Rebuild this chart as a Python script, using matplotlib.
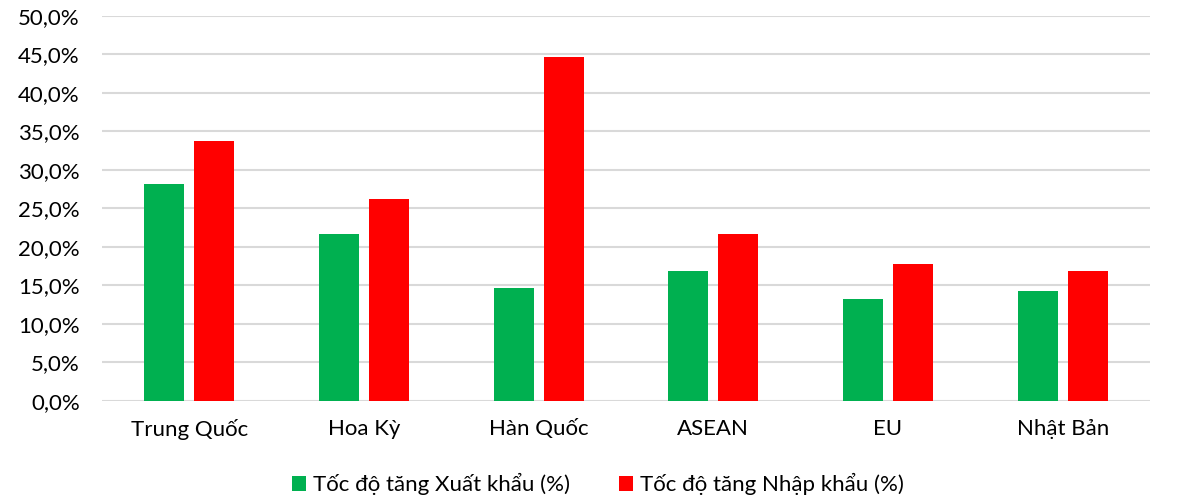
import numpy as np
import matplotlib as mpl
import matplotlib.pyplot as plt
from matplotlib.ticker import FuncFormatter

mpl.rcParams['font.family'] = ['Lato', 'DejaVu Sans']

# Data
categories = ['Trung Quốc', 'Hoa Kỳ', 'Hàn Quốc', 'ASEAN', 'EU', 'Nhật Bản']
xuat_khau = [28.2, 21.6, 14.7, 16.9, 13.2, 14.2]
nhap_khau = [33.7, 26.2, 44.6, 21.7, 17.8, 16.8]
labels = ['Tốc độ tăng Xuất khẩu (%)', 'Tốc độ tăng Nhập khẩu (%)']

GREEN = '#00B050'
RED = '#FF0000'

fig = plt.figure(figsize=(11.96, 4.95), dpi=100)
ax = fig.add_axes([102 / 1196, 1 - 400.7 / 495, (1150 - 102) / 1196, (400.7 - 15.7) / 495])

x = np.arange(len(categories))
w = 0.229
off = 0.143
ax.bar(x - off, xuat_khau, w, color=GREEN, label=labels[0], zorder=3)
ax.bar(x + off, nhap_khau, w, color=RED, label=labels[1], zorder=3)

ax.set_xlim(-0.5, len(categories) - 0.5)
ax.set_ylim(0, 50)
ax.set_yticks(np.arange(0, 50.1, 5))
ax.yaxis.set_major_formatter(FuncFormatter(lambda v, p: f'{v:.1f}%'.replace('.', ',')))
ax.set_xticks(x)
ax.set_xticklabels(categories)
ax.tick_params(axis='both', length=0, labelsize=16, colors='black')
ax.tick_params(axis='x', pad=13)
ax.tick_params(axis='y', pad=16)

ax.grid(axis='y', color='#d9d9d9', lw=1.5, zorder=0)
for s in ax.spines.values():
    s.set_visible(False)

fig.legend(loc='center', bbox_to_anchor=(0.5, 1 - 484 / 495), ncol=2,
           frameon=False, fontsize=16, handlelength=0.65, handleheight=0.65,
           handletextpad=0.3, columnspacing=2.2, borderaxespad=0)

fig.savefig('out.png', dpi=100)
